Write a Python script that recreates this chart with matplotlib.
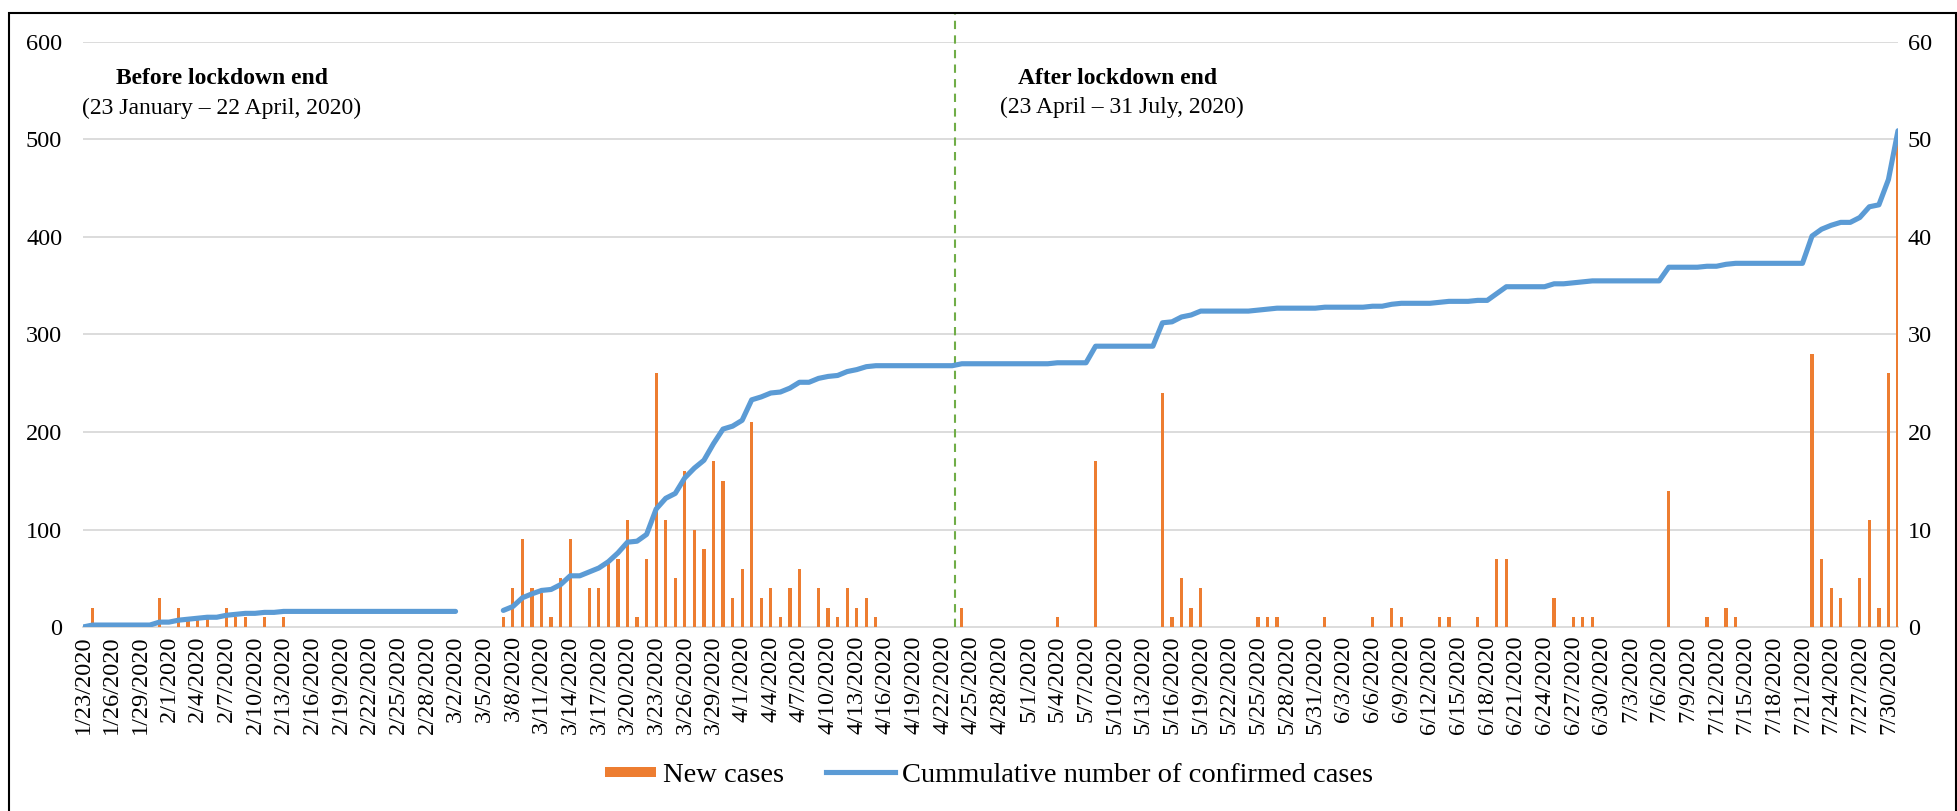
import matplotlib
matplotlib.use("Agg")
import matplotlib.pyplot as plt
import matplotlib.transforms as mtransforms
from matplotlib.patches import Rectangle, Patch
from matplotlib.lines import Line2D
from matplotlib.legend_handler import HandlerPatch
import pandas as pd
import numpy as np

# ---------------- data ----------------
dates = pd.date_range("2020-01-23", "2020-07-31", freq="D")
categories = [f"{d.month}/{d.day}/{d.year}" for d in dates]

new_case_days = ["1/24", "1/31", "2/2", "2/3", "2/4", "2/5", "2/7", "2/8", "2/9", "2/11", "2/13",
                 "3/7", "3/8", "3/9", "3/10", "3/11", "3/12", "3/13", "3/14", "3/16", "3/17",
                 "3/18", "3/19", "3/20", "3/21", "3/22", "3/23", "3/24", "3/25", "3/26", "3/27",
                 "3/28", "3/29", "3/30", "3/31", "4/1", "4/2", "4/3", "4/4", "4/5", "4/6",
                 "4/7", "4/9", "4/10", "4/11", "4/12", "4/13", "4/14", "4/15",
                 "4/24", "5/4", "5/8", "5/15", "5/16", "5/17", "5/18", "5/19", "5/25", "5/26",
                 "5/27", "6/1", "6/6", "6/8", "6/9", "6/13", "6/14", "6/17", "6/19", "6/20",
                 "6/25", "6/27", "6/28", "6/29", "7/7", "7/11", "7/13", "7/14", "7/22", "7/23",
                 "7/24", "7/25", "7/27", "7/28", "7/29", "7/30", "7/31"]
new_case_values = [20, 30, 20, 10, 10, 10, 20, 10, 10, 10, 10,
                   10, 40, 90, 40, 35, 10, 50, 90, 40, 40,
                   65, 70, 110, 10, 70, 260, 110, 50, 160, 100,
                   80, 170, 150, 30, 60, 210, 30, 40, 10, 40,
                   60, 40, 20, 10, 40, 20, 30, 10,
                   20, 10, 170, 240, 10, 50, 20, 40, 10, 10,
                   10, 10, 10, 20, 10, 10, 10, 10, 70, 70,
                   30, 10, 10, 10, 140, 10, 20, 10, 280, 70,
                   40, 30, 50, 110, 20, 260, 500]

N = None
cumulative = [0.0, 0.2, 0.2, 0.2, 0.2, 0.2, 0.2, 0.2, 0.5, 0.5,
              0.7, 0.8, 0.9, 1.0, 1.0, 1.2, 1.3, 1.4, 1.4, 1.5,
              1.5, 1.6, 1.6, 1.6, 1.6, 1.6, 1.6, 1.6, 1.6, 1.6,
              1.6, 1.6, 1.6, 1.6, 1.6, 1.6, 1.6, 1.6, 1.6, 1.6,
              N, N, N, N, 1.7, 2.1, 3.0, 3.4, 3.75, 3.85,
              4.35, 5.25, 5.25, 5.65, 6.05, 6.7, 7.6, 8.7, 8.8, 9.5,
              12.1, 13.2, 13.7, 15.3, 16.3, 17.1, 18.8, 20.3, 20.6, 21.2,
              23.3, 23.6, 24.0, 24.1, 24.5, 25.1, 25.1, 25.5, 25.7, 25.8,
              26.2, 26.4, 26.7, 26.8, 26.8, 26.8, 26.8, 26.8, 26.8, 26.8,
              26.8, 26.8, 27.0, 27.0, 27.0, 27.0, 27.0, 27.0, 27.0, 27.0,
              27.0, 27.0, 27.1, 27.1, 27.1, 27.1, 28.8, 28.8, 28.8, 28.8,
              28.8, 28.8, 28.8, 31.2, 31.3, 31.8, 32.0, 32.4, 32.4, 32.4,
              32.4, 32.4, 32.4, 32.5, 32.6, 32.7, 32.7, 32.7, 32.7, 32.7,
              32.8, 32.8, 32.8, 32.8, 32.8, 32.9, 32.9, 33.1, 33.2, 33.2,
              33.2, 33.2, 33.3, 33.4, 33.4, 33.4, 33.5, 33.5, 34.2, 34.9,
              34.9, 34.9, 34.9, 34.9, 35.2, 35.2, 35.3, 35.4, 35.5, 35.5,
              35.5, 35.5, 35.5, 35.5, 35.5, 35.5, 36.9, 36.9, 36.9, 36.9,
              37.0, 37.0, 37.2, 37.3, 37.3, 37.3, 37.3, 37.3, 37.3, 37.3,
              37.3, 40.1, 40.8, 41.2, 41.5, 41.5, 42.0, 43.1, 43.3, 45.9,
              50.9]

left_ticks = [0, 100, 200, 300, 400, 500, 600]
right_ticks = [0, 10, 20, 30, 40, 50, 60]
lockdown_end_pos = 91.3

# ---------------- figure ----------------
plt.rcParams["font.family"] = ["Liberation Serif", "DejaVu Serif"]
W, H = 1958, 811
fig = plt.figure(figsize=(W / 100, H / 100), dpi=100)

x0, x1, y0, y1 = 83, 1898, 42, 627
ax = fig.add_axes([x0 / W, 1 - y1 / H, (x1 - x0) / W, (y1 - y0) / H])

cat_index = {c: i for i, c in enumerate(categories)}
bar_x = [cat_index[d + "/2020"] for d in new_case_days]
ax.bar(bar_x, new_case_values, width=0.34, color="#ED7D31", zorder=3)

ax.set_xlim(0, len(categories) - 1)
ax.set_ylim(0, 600)
ax.set_yticks(left_ticks)
ax.tick_params(axis="y", length=0, pad=15, labelsize=17.5)
for v in left_ticks[1:]:
    ax.axhline(v, color="#D9D9D9", lw=1.3, zorder=1)
for s in ["top", "left", "right"]:
    ax.spines[s].set_visible(False)
ax.spines["bottom"].set_color("#D9D9D9")
ax.spines["bottom"].set_linewidth(1.3)

tick_pos = list(range(0, len(categories), 3))
ax.set_xticks(tick_pos)
ax.set_xticklabels([categories[i] for i in tick_pos], rotation=90, fontsize=17.5)
ax.tick_params(axis="x", length=0, pad=6)

ax2 = ax.twinx()
cum = np.array([np.nan if v is None else v for v in cumulative], dtype=float)
ax2.plot(range(len(categories)), cum, color="#5B9BD5", lw=3.7,
         solid_capstyle="round", solid_joinstyle="round", zorder=4)
ax2.set_ylim(0, 60)
ax2.set_yticks(right_ticks)
ax2.tick_params(axis="y", length=0, pad=7, labelsize=17.5)
for s in ["top", "left", "right", "bottom"]:
    ax2.spines[s].set_visible(False)
ax2.set_xlim(0, len(categories) - 1)

trans = mtransforms.blended_transform_factory(ax.transData, ax.transAxes)
ax.plot([lockdown_end_pos, lockdown_end_pos], [0, 1.05], transform=trans,
        color="#70AD47", lw=1.5, ls=(0, (4, 3)), clip_on=False, zorder=5)

fig.text(222 / W, 1 - 79 / H, "Before lockdown end", ha="center", va="center",
         fontsize=17, fontweight="bold")
fig.text(222 / W, 1 - 108 / H, "(23 January \u2013 22 April, 2020)", ha="center",
         va="center", fontsize=17)
fig.text(1118 / W, 1 - 78 / H, "After lockdown end", ha="center", va="center",
         fontsize=17, fontweight="bold")
fig.text(1122 / W, 1 - 107 / H, "(23 April \u2013 31 July, 2020)", ha="center",
         va="center", fontsize=17)


def small_patch(legend, orig_handle, xdescent, ydescent, width, height, fontsize):
    w = width * 0.74
    h = height * 0.55
    return Rectangle((width - w - xdescent, (height - h) / 2 - ydescent), w, h)


handles = [Patch(facecolor="#ED7D31", edgecolor="none"),
           Line2D([0], [0], color="#5B9BD5", lw=3.7)]
fig.legend(handles, ["New cases", "Cummulative number of confirmed cases"],
           loc="center", bbox_to_anchor=(980 / W, 1 - 775 / H), ncol=2,
           frameon=False, fontsize=20.5, handlelength=2.4, handletextpad=0.25,
           columnspacing=1.5,
           handler_map={Patch: HandlerPatch(patch_func=small_patch)})

fig.patches.append(Rectangle((9 / W, -0.05), (W - 11) / W, 1.05 - 13 / H,
                             transform=fig.transFigure, fill=False,
                             edgecolor="black", lw=1.5))

fig.savefig("out.png", dpi=100)
